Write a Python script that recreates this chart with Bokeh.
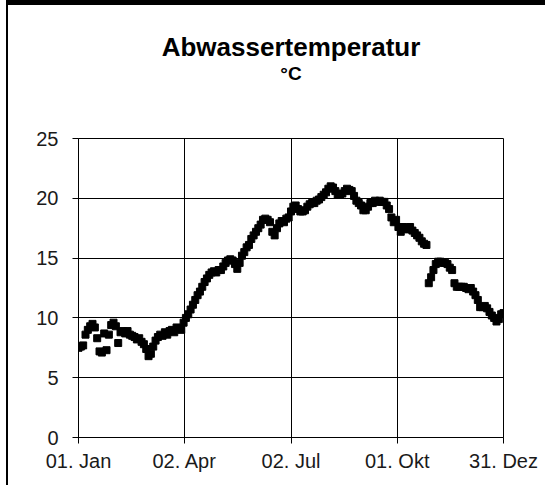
from bokeh.plotting import figure
from bokeh.models import Range1d, FixedTicker, Title
from bokeh.embed import file_html
from bokeh.resources import INLINE

days = list(range(0, 365, 2))
temps = [
    7.5, 7.6, 7.7, 8.6, 9.0, 9.3, 9.5, 9.2, 8.3, 7.2,
    7.1, 8.7, 7.3, 8.6, 9.4, 9.6, 9.3, 7.9, 8.8, 8.9,
    8.7, 8.9, 8.6, 8.5, 8.4, 8.2, 8.3, 8.0, 7.8, 7.4,
    6.8, 7.0, 7.6, 8.1, 8.4, 8.6, 8.5, 8.8, 8.6, 8.9,
    9.0, 8.8, 9.2, 9.1, 9.0, 9.6,
    10.0, 10.3, 10.7, 11.1, 11.5, 11.9, 12.2, 12.6, 13.0, 13.3,
    13.6, 13.8, 13.9, 13.8, 14.0, 14.0, 14.3, 14.6, 14.8, 14.9,
    14.8, 14.5, 14.1, 14.6, 15.2, 15.5, 15.9, 16.1, 16.6, 16.9,
    17.2, 17.5, 17.8, 18.2, 18.3, 18.2, 18.0, 17.2, 16.9, 17.5,
    17.9, 18.1, 18.0, 18.3, 18.4,
    18.9, 19.3, 19.4, 19.1, 18.9, 18.9, 19.0, 19.3, 19.5, 19.6,
    19.6, 19.8, 19.9, 20.1, 20.3, 20.5, 20.8, 21.0, 20.9, 20.6,
    20.3, 20.3, 20.4, 20.6, 20.8, 20.7, 20.6, 20.2, 19.8, 19.6,
    19.4, 19.0, 19.0, 19.3, 19.6, 19.6, 19.8, 19.7, 19.8, 19.7,
    19.7, 19.4, 19.1, 18.4, 18.0,
    18.2, 17.6, 17.2, 17.6, 17.5, 17.4, 17.6, 17.3, 17.1, 16.9,
    16.7, 16.4, 16.2, 16.1, 12.9, 13.4, 14.0, 14.5, 14.7, 14.7,
    14.6, 14.6, 14.5, 14.2, 14.0, 12.9, 12.6, 12.6, 12.6, 12.6,
    12.5, 12.4, 12.5, 12.2, 11.9, 11.5, 10.9, 10.9, 11.0, 10.8,
    10.5, 10.2, 10.0, 9.7, 9.9, 10.3, 10.4,
]
x_ticks = [0, 91, 182, 273, 364]
x_tick_labels = ["01. Jan", "02. Apr", "02. Jul", "01. Okt", "31. Dez"]
y_ticks = [0, 5, 10, 15, 20, 25]
title_text = "Abwassertemperatur"
unit_text = "°C"

n = min(len(days), len(temps))
days = days[:n]
temps = temps[:n]

FONT = "Liberation Sans"

p = figure(width=539, height=485, output_backend="svg", toolbar_location=None,
           x_range=Range1d(0, 364), y_range=Range1d(0, 25),
           min_border_left=70, min_border_right=44,
           min_border_top=131, min_border_bottom=53)
p.styles = {"border-top": "5px solid black", "border-left": "2px solid black",
            "border-right": "0px none", "border-bottom": "0px none",
            "margin-left": "6px", "outline": "none", "box-shadow": "none"}
p.background_fill_color = "white"
p.border_fill_color = "white"
p.outline_line_color = "black"
p.outline_line_width = 1

p.xaxis.ticker = FixedTicker(ticks=x_ticks)
p.xaxis.major_label_overrides = {t: l for t, l in zip(x_ticks, x_tick_labels)}
p.yaxis.ticker = FixedTicker(ticks=y_ticks)

for ax in (p.xaxis[0], p.yaxis[0]):
    ax.axis_line_color = "black"
    ax.axis_line_width = 1
    ax.major_tick_line_color = "black"
    ax.major_tick_out = 6
    ax.major_tick_in = 0
    ax.minor_tick_line_color = None
    ax.major_label_text_font = FONT
    ax.major_label_text_font_size = "20px"
    ax.major_label_text_color = "#1a1a1a"
p.yaxis.major_label_standoff = 14
p.xaxis.major_label_standoff = 6

p.xgrid.grid_line_color = "black"
p.ygrid.grid_line_color = "black"
p.xgrid.grid_line_width = 1
p.ygrid.grid_line_width = 1

p.scatter(days, temps, marker="square", size=7, color="black")

p.add_layout(Title(text=unit_text, align="center", text_font=FONT,
                   text_font_size="19px", text_font_style="bold",
                   text_color="black", standoff=110), "above")
p.add_layout(Title(text=title_text, align="center", text_font=FONT,
                   text_font_size="26px", text_font_style="bold",
                   text_color="black", standoff=-112), "above")

open("out.html", "w").write(file_html(p, INLINE))
